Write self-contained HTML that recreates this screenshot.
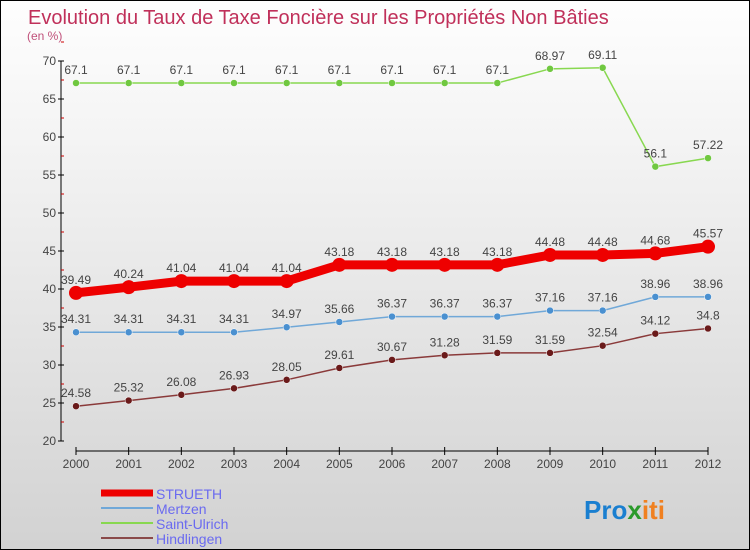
<!DOCTYPE html>
<html><head><meta charset="utf-8"><style>
body{margin:0;width:750px;height:550px;overflow:hidden;font-family:"Liberation Sans",sans-serif}
#c{position:absolute;left:0;top:0;width:748px;height:548px;border:1px solid #000;background:linear-gradient(#fefefe,#f4f4f4 25%,#d2d2d2)}
</style></head><body>
<div id="c">
<svg id="s" width="748" height="548" style="position:absolute;left:0;top:0" font-family="Liberation Sans, sans-serif">
<text x="27" y="23" font-size="20" fill="#c0305a">Evolution du Taux de Taxe Foncière sur les Propriétés Non Bâties</text>
<text x="26" y="39" font-size="12" fill="#c0507a">(en %)</text>
<g id="axes"></g><g id="plot"></g>
<g id="legend"></g>
<text x="583" y="518" font-size="26" font-weight="bold"><tspan fill="#1a7fd0">Pro</tspan><tspan fill="#2a9a2a">x</tspan><tspan fill="#f08020">iti</tspan></text>
</svg>
</div>
<script>
const years=[2000,2001,2002,2003,2004,2005,2006,2007,2008,2009,2010,2011,2012];
const yTicks=[20,25,30,35,40,45,50,55,60,65,70];
const strueth=[39.49,40.24,41.04,41.04,41.04,43.18,43.18,43.18,43.18,44.48,44.48,44.68,45.57];
const mertzen=[34.31,34.31,34.31,34.31,34.97,35.66,36.37,36.37,36.37,37.16,37.16,38.96,38.96];
const saintUlrich=[67.1,67.1,67.1,67.1,67.1,67.1,67.1,67.1,67.1,68.97,69.11,56.1,57.22];
const hindlingen=[24.58,25.32,26.08,26.93,28.05,29.61,30.67,31.28,31.59,31.59,32.54,34.12,34.8];
const NS="http://www.w3.org/2000/svg";
const X=i=>75+i*(707-75)/12, Y=v=>440-(v-20)*7.6;
function el(t,a,p){const e=document.createElementNS(NS,t);for(const k in a)e.setAttribute(k,a[k]);p.appendChild(e);return e;}
const ax=document.getElementById('axes');
let yl=el('line',{x1:60,y1:60,x2:60,y2:440,stroke:'#000'},ax);


yTicks.forEach(v=>{el('line',{x1:57,x2:63,y1:Y(v),y2:Y(v),stroke:'#000'},ax);
 el('line',{x1:60,x2:63,y1:Y(v+2.5),y2:Y(v+2.5),stroke:'#c00'},ax);
 const t=el('text',{x:55,y:Y(v)+4,'text-anchor':'end','font-size':12,fill:'#444'},ax);t.textContent=v;
 
 });
let xl=el('line',{x1:75,y1:450,x2:707,y2:450,stroke:'#000'},ax);


years.forEach((y,i)=>{el('line',{x1:X(i),x2:X(i),y1:446,y2:454,stroke:'#000'},ax);
 const t=el('text',{x:X(i),y:467,'text-anchor':'middle','font-size':12,fill:'#444'},ax);t.textContent=y;
 
 });
const pl=document.getElementById('plot');
const series=[
 {n:'saint-ulrich',d:saintUlrich,c:'#88d850',w:1.5,r:3.5,f:'#70c840'},
 {n:'mertzen',d:mertzen,c:'#70a8d8',w:1.5,r:3.5,f:'#4a90d0'},
 {n:'hindlingen',d:hindlingen,c:'#8a3a3a',w:1.5,r:3.5,f:'#6a1a1a'},
 {n:'strueth',d:strueth,c:'#ee0000',w:9,r:7,f:'#ee0000'}];
series.forEach(s=>{
 const l=el('polyline',{points:s.d.map((v,i)=>X(i)+','+Y(v)).join(' '),fill:'none',stroke:s.c,'stroke-width':s.w},pl);
 
 
 s.d.forEach((v,i)=>{const p=el('circle',{cx:X(i),cy:Y(v),r:s.r,fill:s.f,stroke:'#fff','stroke-width':s.r>5?0:0.5},pl);
  
  
  const t=el('text',{x:X(i),y:Y(v)-9,'text-anchor':'middle','font-size':12,fill:'#444'},pl);t.textContent=v;
  
  });
});
const lg=document.getElementById('legend');
const ln=[['STRUETH','#ee0000',7],['Mertzen','#70a8d8',2],['Saint-Ulrich','#88d850',2],['Hindlingen','#8a4a4a',2]];
ln.forEach((e,i)=>{const y=492+i*15;
 const g=el('g',{},lg);
 
 
 el('line',{x1:100,x2:152,y1:y,y2:y,stroke:e[1],'stroke-width':e[2]},g);
 const t=el('text',{x:155,y:y+6,'font-size':14,fill:'#6a6af0'},g);t.textContent=e[0];});
</script>
</body></html>
